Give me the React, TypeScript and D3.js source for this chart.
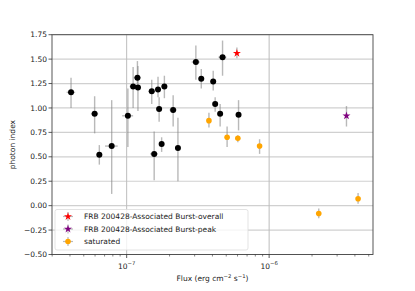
import React from 'react';
import * as d3 from 'd3';

// flux in erg cm^-2 s^-1, photon index and errors
const burstFlux = [4.07e-8, 5.96e-8, 7.85e-8, 6.43e-8, 1.02e-7, 1.11e-7, 1.19e-7, 1.2e-7, 1.5e-7, 1.66e-7, 1.69e-7, 1.84e-7,
  2.12e-7, 1.76e-7, 2.29e-7, 1.56e-7, 3.06e-7, 3.34e-7, 4.71e-7, 4.05e-7, 4.18e-7, 4.53e-7, 6.1e-7];
const burstIndex = [1.16, 0.94, 0.61, 0.52, 0.92, 1.22, 1.31, 1.21, 1.17, 1.19, 0.99, 1.22,
  0.98, 0.63, 0.59, 0.53, 1.47, 1.3, 1.52, 1.27, 1.04, 0.94, 0.93];
const burstIdxLo = [1.0, 0.74, 0.12, 0.42, 0.6, 1.0, 1.25, 0.97, 1.04, 1.11, 0.86, 1.1,
  0.81, 0.55, 0.25, 0.26, 1.29, 1.2, 1.33, 1.18, 0.96, 0.81, 0.77];
const burstIdxHi = [1.31, 1.12, 1.08, 0.62, 1.2, 1.42, 1.48, 1.43, 1.29, 1.32, 1.11, 1.33,
  1.13, 0.7, 0.9, 0.76, 1.64, 1.4, 1.69, 1.38, 1.11, 1.04, 1.08];
const burstFluxErr = [0.28e-8, 0.35e-8, 0.8e-8, 0.3e-8, 0.9e-8, 0.6e-8, 0.7e-8, 0.6e-8, 0.8e-8, 0.8e-8, 0.7e-8, 0.8e-8,
  1.2e-8, 0.7e-8, 1.0e-8, 1.0e-8, 2.0e-8, 1.5e-8, 3.0e-8, 1.5e-8, 1.5e-8, 2.0e-8, 2.5e-8];

const satFlux = [3.78e-7, 5.07e-7, 6.03e-7, 8.57e-7, 2.23e-6, 4.21e-6];
const satIndex = [0.87, 0.7, 0.69, 0.61, -0.08, 0.07];
const satIdxLo = [0.8, 0.6, 0.65, 0.53, -0.13, 0.02];
const satIdxHi = [0.95, 0.81, 0.72, 0.68, -0.03, 0.13];

const overallFlux = [5.94e-7];
const overallIndex = [1.56];
const overallIdxLo = [1.51];
const overallIdxHi = [1.62];

const peakFlux = [3.49e-6];
const peakIndex = [0.92];
const peakIdxLo = [0.81];
const peakIdxHi = [1.02];

const yTicks = [-0.5, -0.25, 0, 0.25, 0.5, 0.75, 1.0, 1.25, 1.5, 1.75];
const xTicks = [1e-7, 1e-6];
const legendLabels = ['FRB 200428-Associated Burst-overall', 'FRB 200428-Associated Burst-peak', 'saturated'];

const W = 415, H = 291;
const m = { left: 52, right: 42, top: 34.7, bottom: 36.5 };

const x = d3.scaleLog().domain([Math.pow(10, -7.524), Math.pow(10, -5.271)]).range([m.left, W - m.right]);
const y = d3.scaleLinear().domain([-0.5, 1.75]).range([H - m.bottom, m.top]);

const star = d3.symbol().type(d3.symbolStar).size(20)() as string;
const font = 'DejaVu Sans, sans-serif';

function ErrBar({ cx, cy, lo, hi, xl, xr }: any) {
  return (
    <g stroke="#808080" strokeOpacity={0.55} strokeWidth={1.4}>
      <line x1={cx} x2={cx} y1={lo} y2={hi} />
      {xl !== undefined && <line x1={xl} x2={xr} y1={cy} y2={cy} />}
    </g>
  );
}

export default function App() {
  const minor: number[] = [];
  for (let e = -8; e <= -6; e++) for (let k = 2; k <= 9; k++) {
    const v = k * Math.pow(10, e);
    if (v > x.domain()[0] && v < x.domain()[1]) minor.push(v);
  }
  const x0 = m.left, x1 = W - m.right, y0 = m.top, y1 = H - m.bottom;
  return (
    <svg width={W} height={H} style={{ position: 'absolute', left: 0, top: 0 }} fontFamily={font}>
      <rect width={W} height={H} fill="#fff" />
      {/* grid */}
      {yTicks.map(t => <line key={'g' + t} x1={x0} x2={x1} y1={y(t)} y2={y(t)} stroke="#d0d0d0" strokeWidth={1.2} />)}
      {xTicks.map(t => <line key={'gx' + t} x1={x(t)} x2={x(t)} y1={y0} y2={y1} stroke="#bdbdbd" strokeWidth={1} />)}

      {/* error bars */}
      {burstFlux.map((f, i) => (
        <ErrBar key={'eb' + i} cx={x(f)} cy={y(burstIndex[i])} lo={y(burstIdxLo[i])} hi={y(burstIdxHi[i])}
          xl={x(f - burstFluxErr[i])} xr={x(f + burstFluxErr[i])} />
      ))}
      {satFlux.map((f, i) => (
        <ErrBar key={'es' + i} cx={x(f)} cy={y(satIndex[i])} lo={y(satIdxLo[i])} hi={y(satIdxHi[i])} />
      ))}
      {overallFlux.map((f, i) => (
        <ErrBar key={'eo' + i} cx={x(f)} cy={y(overallIndex[i])} lo={y(overallIdxLo[i])} hi={y(overallIdxHi[i])} />
      ))}
      {peakFlux.map((f, i) => (
        <ErrBar key={'ep' + i} cx={x(f)} cy={y(peakIndex[i])} lo={y(peakIdxLo[i])} hi={y(peakIdxHi[i])} />
      ))}

      {/* markers */}
      {burstFlux.map((f, i) => <circle key={'b' + i} cx={x(f)} cy={y(burstIndex[i])} r={3} fill="#000" />)}
      {satFlux.map((f, i) => <circle key={'s' + i} cx={x(f)} cy={y(satIndex[i])} r={2.8} fill="orange" />)}
      {overallFlux.map((f, i) => <path key={'o' + i} d={star} transform={`translate(${x(f)},${y(overallIndex[i])})`} fill="red" />)}
      {peakFlux.map((f, i) => <path key={'p' + i} d={star} transform={`translate(${x(f)},${y(peakIndex[i])})`} fill="purple" />)}

      {/* spines */}
      <rect x={x0} y={y0} width={x1 - x0} height={y1 - y0} fill="none" stroke="#444" strokeWidth={0.9} />

      {/* y axis */}
      {yTicks.map(t => (
        <g key={'yt' + t}>
          <line x1={x0 - 3.5} x2={x0} y1={y(t)} y2={y(t)} stroke="#333" strokeWidth={0.8} />
          <text x={x0 - 5} y={y(t)} dy="0.35em" textAnchor="end" fontSize={7.5} fill="#222">
            {d3.format('.2f')(t).replace('-', '\u2212')}
          </text>
        </g>
      ))}
      <text transform={`translate(15,${(y0 + y1) / 2}) rotate(-90)`} textAnchor="middle" fontSize={7.5} fill="#222">photon index</text>

      {/* x axis */}
      {minor.map(t => <line key={'mt' + t} x1={x(t)} x2={x(t)} y1={y1} y2={y1 + 2} stroke="#333" strokeWidth={0.6} />)}
      {xTicks.map(t => (
        <g key={'xt' + t}>
          <line x1={x(t)} x2={x(t)} y1={y1} y2={y1 + 3.5} stroke="#333" strokeWidth={0.8} />
          <text x={x(t)} y={y1 + 14} textAnchor="middle" fontSize={7.5} fill="#222">
            10<tspan dy={-3.5} fontSize={5.3}>{'\u2212' + (-Math.log10(t)).toFixed(0)}</tspan>
          </text>
        </g>
      ))}
      <text x={(x0 + x1) / 2} y={y1 + 26} textAnchor="middle" fontSize={7.5} fill="#222">
        Flux (erg cm<tspan dy={-3} fontSize={5.3}>{'\u22122'}</tspan><tspan dy={3}> s</tspan>
        <tspan dy={-3} fontSize={5.3}>{'\u22121'}</tspan><tspan dy={3}>)</tspan>
      </text>

      {/* legend */}
      <g>
        <rect x={55} y={209.5} width={193} height={40.5} rx={2} fill="#fff" fillOpacity={0.8} stroke="#dcdcdc" strokeWidth={0.8} />
        {legendLabels.map((l, i) => {
          const ly = 216.5 + i * 12.5;
          const col = ['red', 'purple', 'orange'][i];
          return (
            <g key={l}>
              <g stroke="#808080" strokeOpacity={0.55} strokeWidth={1.2}>
                <line x1={63} x2={73} y1={ly} y2={ly} />
                <line x1={68} x2={68} y1={ly - 4.5} y2={ly + 4.5} />
              </g>
              {i < 2
                ? <path d={star} transform={`translate(68,${ly})`} fill={col} />
                : <circle cx={68} cy={ly} r={2.8} fill={col} />}
              <text x={84} y={ly} dy="0.35em" fontSize={7.5} fill="#222">{l}</text>
            </g>
          );
        })}
      </g>
    </svg>
  );
}
